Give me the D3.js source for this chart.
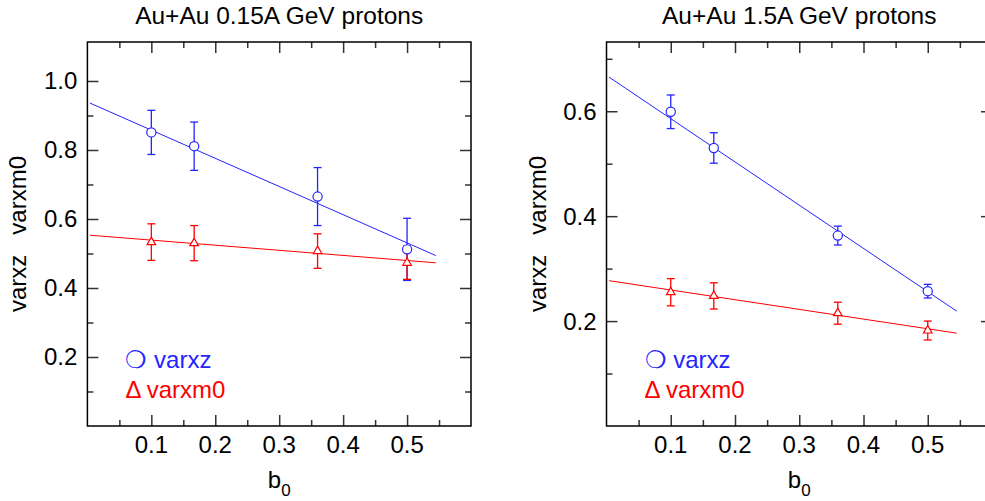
<!DOCTYPE html>
<html>
<head>
<meta charset="utf-8">
<script src="https://cdn.jsdelivr.net/npm/d3@7"></script>
<style>
  body { margin: 0; background: #fff; }
  svg { font-family: "Liberation Sans", Arial, sans-serif; }
</style>
</head>
<body>
<div id="chart"></div>
<script>
// impact parameter values (shared by both panels)
var b0 = [0.1, 0.167, 0.36, 0.5];
var fitB = [0.004, 0.545];

// Au+Au 0.15A GeV
var lowVarxz = [0.851, 0.811, 0.665, 0.512];
var lowVarxzErr = [0.064, 0.070, 0.084, 0.090];
var lowVarxm0 = [0.533, 0.530, 0.507, 0.473];
var lowVarxm0Err = [0.053, 0.051, 0.050, 0.048];
var lowFitVarxz = [0.936, 0.494];
var lowFitVarxm0 = [0.553, 0.473];

// Au+Au 1.5A GeV
var highVarxz = [0.599, 0.530, 0.363, 0.257];
var highVarxzErr = [0.032, 0.029, 0.018, 0.013];
var highVarxm0 = [0.255, 0.248, 0.215, 0.182];
var highVarxm0Err = [0.026, 0.025, 0.021, 0.018];
var highFitVarxz = [0.665, 0.219];
var highFitVarxm0 = [0.277, 0.177];

var xMajor = [0.1, 0.2, 0.3, 0.4, 0.5];
var xMinor = [0.05, 0.15, 0.25, 0.35, 0.45, 0.55];
var lowYMajor = [0.2, 0.4, 0.6, 0.8, 1.0];
var lowYMinor = [0.1, 0.3, 0.5, 0.7, 0.9];
var highYMajor = [0.2, 0.4, 0.6];
var highYMinor = [0.1, 0.3, 0.5, 0.7];

var blue = "#2424ff";
var red = "#ff0000";

var svg = d3.select("#chart").append("svg")
    .attr("width", 985)
    .attr("height", 501);

/* draw one panel
   left/right: pixel edges of the frame, yMax: top of the y domain */
function drawPanel(o){
  var top = 42, bottom = 426;
  var x = d3.scaleLinear().domain([0, 0.6]).range([o.left, o.right]);
  var y = d3.scaleLinear().domain([0, o.yMax]).range([bottom, top]);
  var g = svg.append("g");

  // ticks on all four sides, pointing inward
  function ticks(axis, vals, size, tr){
    var a = g.append("g").attr("transform", tr)
      .call(axis.tickValues(vals).tickSize(-size).tickFormat(""));
    a.select(".domain").remove();
    a.selectAll("line").attr("stroke", "#333").attr("stroke-width", 1.5);
  }
  ticks(d3.axisBottom(x), xMajor, 11, "translate(0," + bottom + ")");
  ticks(d3.axisBottom(x), xMinor, 6, "translate(0," + bottom + ")");
  ticks(d3.axisTop(x), xMajor, 11, "translate(0," + top + ")");
  ticks(d3.axisTop(x), xMinor, 6, "translate(0," + top + ")");
  ticks(d3.axisLeft(y), o.yMajor, 11, "translate(" + o.left + ",0)");
  ticks(d3.axisLeft(y), o.yMinor, 6, "translate(" + o.left + ",0)");
  ticks(d3.axisRight(y), o.yMajor, 11, "translate(" + o.right + ",0)");
  ticks(d3.axisRight(y), o.yMinor, 6, "translate(" + o.right + ",0)");

  // frame
  g.append("rect")
    .attr("x", o.left).attr("y", top)
    .attr("width", o.right - o.left).attr("height", bottom - top)
    .attr("fill", "none").attr("stroke", "#000").attr("stroke-width", 1.5);

  // tick labels
  g.selectAll(".xl").data(xMajor).enter().append("text")
    .attr("x", function(d){ return x(d); })
    .attr("y", 453)
    .attr("text-anchor", "middle")
    .style("font-size", "24px")
    .text(d3.format(".1f"));
  g.selectAll(".yl").data(o.yMajor).enter().append("text")
    .attr("x", o.left - 10)
    .attr("y", function(d){ return y(d) + 8.5; })
    .attr("text-anchor", "end")
    .style("font-size", "24px")
    .text(d3.format(".1f"));

  var cx = (o.left + o.right) / 2;

  // title
  g.append("text")
    .attr("x", cx).attr("y", 24)
    .attr("text-anchor", "middle")
    .style("font-size", "24.5px")
    .text(o.title);

  // axis titles
  var xt = g.append("text")
    .attr("x", cx).attr("y", 488)
    .attr("text-anchor", "middle")
    .style("font-size", "24px");
  xt.append("tspan").text("b");
  xt.append("tspan").attr("dy", 8).style("font-size", "17px").text("0");

  g.append("text")
    .attr("transform", "translate(" + (o.left - 61) + "," + ((top + bottom) / 2) + ") rotate(-90)")
    .attr("text-anchor", "middle")
    .attr("xml:space", "preserve")
    .style("white-space", "pre")
    .style("font-size", "24px")
    .text("varxz   varxm0");

  // fit lines
  var line = d3.line()
    .x(function(d){ return x(d[0]); })
    .y(function(d){ return y(d[1]); });
  g.append("path")
    .attr("d", line(d3.zip(fitB, o.fitXz)))
    .attr("fill", "none").attr("stroke", blue).attr("stroke-width", 1);
  g.append("path")
    .attr("d", line(d3.zip(fitB, o.fitXm0)))
    .attr("fill", "none").attr("stroke", red).attr("stroke-width", 1);

  // error bars
  function errors(vals, errs, color){
    var pts = d3.zip(b0, vals, errs);
    var e = g.append("g").attr("stroke", color).attr("stroke-width", 1.3);
    pts.forEach(function(p){
      var px = x(p[0]);
      e.append("line").attr("x1", px).attr("x2", px)
        .attr("y1", y(p[1] - p[2])).attr("y2", y(p[1] + p[2]));
      e.append("line").attr("x1", px - 4).attr("x2", px + 4)
        .attr("y1", y(p[1] - p[2])).attr("y2", y(p[1] - p[2]));
      e.append("line").attr("x1", px - 4).attr("x2", px + 4)
        .attr("y1", y(p[1] + p[2])).attr("y2", y(p[1] + p[2]));
    });
  }
  errors(o.xz, o.xzErr, blue);
  errors(o.xm0, o.xm0Err, red);

  // markers
  g.selectAll(".circ").data(d3.zip(b0, o.xz)).enter().append("circle")
    .attr("cx", function(d){ return x(d[0]); })
    .attr("cy", function(d){ return y(d[1]); })
    .attr("r", 4.6)
    .attr("fill", "#fff").attr("stroke", blue).attr("stroke-width", 1.2);
  g.selectAll(".tri").data(d3.zip(b0, o.xm0)).enter().append("path")
    .attr("d", d3.symbol().type(d3.symbolTriangle).size(32))
    .attr("transform", function(d){ return "translate(" + x(d[0]) + "," + y(d[1]) + ")"; })
    .attr("fill", "#fff").attr("stroke", red).attr("stroke-width", 1.2);

  // legend
  g.append("text")
    .attr("x", o.left + 38).attr("y", 368)
    .attr("fill", blue)
    .style("font-size", "24px")
    .text("\u274D varxz");
  g.append("text")
    .attr("x", o.left + 38).attr("y", 398)
    .attr("fill", red)
    .style("font-size", "24px")
    .text("\u0394 varxm0");
}

drawPanel({
  left: 87.4, right: 471, yMax: 1.113,
  yMajor: lowYMajor, yMinor: lowYMinor,
  title: "Au+Au 0.15A GeV protons",
  xz: lowVarxz, xzErr: lowVarxzErr, xm0: lowVarxm0, xm0Err: lowVarxm0Err,
  fitXz: lowFitVarxz, fitXm0: lowFitVarxm0
});

drawPanel({
  left: 606.5, right: 992, yMax: 0.732,
  yMajor: highYMajor, yMinor: highYMinor,
  title: "Au+Au 1.5A GeV protons",
  xz: highVarxz, xzErr: highVarxzErr, xm0: highVarxm0, xm0Err: highVarxm0Err,
  fitXz: highFitVarxz, fitXm0: highFitVarxm0
});
</script>
</body>
</html>
